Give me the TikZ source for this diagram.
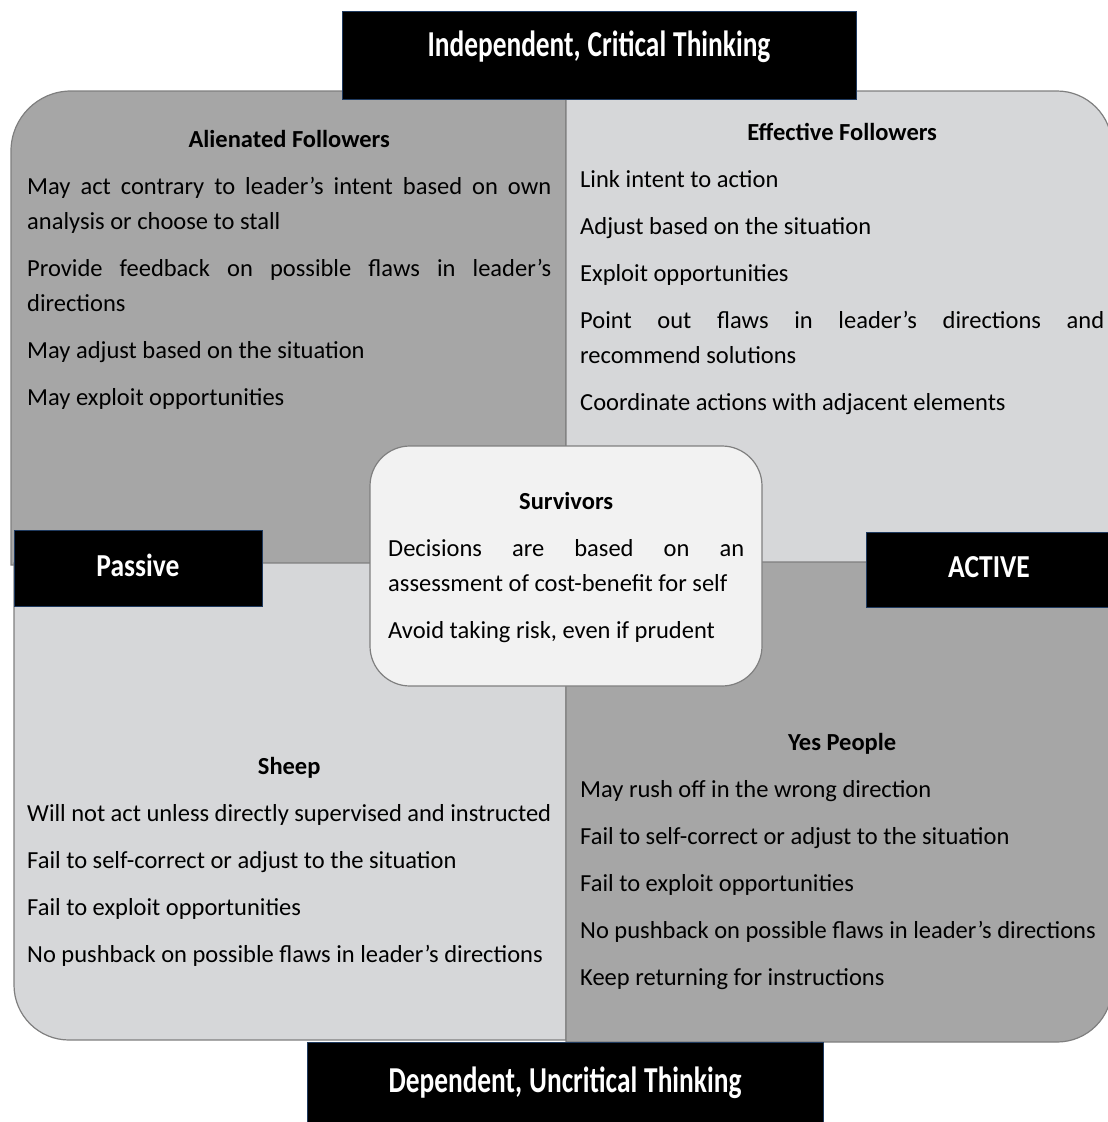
\documentclass[tikz,border=0pt]{standalone}
\usepackage{fontspec}
\setmainfont{Carlito}
\newfontfamily\barfont[FakeStretch=0.75]{Carlito}
\newfontfamily\sidefont[FakeStretch=0.86]{Carlito}

\definecolor{quaddark}{HTML}{A6A6A6}
\definecolor{quadlight}{HTML}{D6D7D9}
\definecolor{survfill}{HTML}{F2F2F2}
\definecolor{quadline}{HTML}{7F7F7F}
\definecolor{barline}{HTML}{1F3A5F}

\newcommand\body{\fontsize{24.5}{35}\selectfont}
\newcommand\tightspaces{\spaceskip=7pt\relax}
\newcommand\nextline{\par\vspace{12pt}}
\hbadness=10000

\begin{document}
\begin{tikzpicture}[x=1pt,y=-1pt,
	quad/.style={draw=quadline,line width=1.2pt},
	quadtext/.style={anchor=base west,inner sep=0pt,text width=524pt,align=justify,font=\body},
	bar/.style={fill=black,draw=barline,line width=1pt,text=white,inner sep=0pt,align=center,anchor=base},
	topbar/.style={bar,font=\barfont\bfseries\fontsize{36.5}{40}\selectfont,execute at begin node=\tightspaces},
	sidebar/.style={bar,font=\sidefont\bfseries\fontsize{32}{36}\selectfont}]
	\useasboundingbox (0,0) rectangle (1108,1122);
	\clip (0,0) rectangle (1108,1122);
	% Quadrants
	\draw[quad,fill=quaddark] (566,565) -- (11,565) [rounded corners=60pt] -- (11,91) [sharp corners] -- (566,91) -- cycle;
	\draw[quad,fill=quadlight] (566,91) [rounded corners=55pt] -- (1112,91) [sharp corners] -- (1112,563) -- (566,563) -- cycle;
	\draw[quad,fill=quadlight] (14,563) -- (566,563) -- (566,1040) [rounded corners=55pt] -- (14,1040) [sharp corners] -- cycle;
	\draw[quad,fill=quaddark] (566,562) -- (1112,562) [rounded corners=55pt] -- (1112,1042) [sharp corners] -- (566,1042) -- cycle;
	% Centre box
	\draw[quad,fill=survfill,rounded corners=40pt] (370,446) rectangle (762,686);
	% Axis labels
	\node[topbar,text width=514pt,text height=45pt,text depth=43pt] (indep) at (599,56) {Independent, Critical Thinking};
	\node[topbar,text width=516pt,text height=50pt,text depth=40pt] (dep) at (565,1092) {Dependent, Uncritical Thinking};
	\node[sidebar,text width=248pt,text height=46pt,text depth=30pt] (passive) at (138,576) {Passive};
	\node[sidebar,text width=246pt,text height=45pt,text depth=30pt] (active) at (989,577) {ACTIVE};
	% Quadrant texts
	\node[quadtext] (alienated) at (27,147) {{\centering\bfseries Alienated Followers\par}\vspace{12pt}
		May act contrary to leader’s intent based on own\linebreak analysis or choose to stall\nextline
		Provide feedback on possible flaws in leader’s\linebreak directions\nextline
		May adjust based on the situation\nextline
		May exploit opportunities};
	\node[quadtext] (effective) at (580,140) {{\centering\bfseries Effective Followers\par}\vspace{12pt}
		Link intent to action\nextline
		Adjust based on the situation\nextline
		Exploit opportunities\nextline
		Point out flaws in leader’s directions and\linebreak recommend solutions\nextline
		Coordinate actions with adjacent elements};
	\node[quadtext,text width=356pt] (survivors) at (388,509) {{\centering\bfseries Survivors\par}\vspace{12pt}
		Decisions are based on an\linebreak assessment of cost-benefit for self\nextline
		Avoid taking risk, even if prudent};
	\node[quadtext] (sheep) at (27,774) {{\centering\bfseries Sheep\par}\vspace{12pt}
		Will not act unless directly supervised and instructed\nextline
		Fail to self-correct or adjust to the situation\nextline
		Fail to exploit opportunities\nextline
		No pushback on possible flaws in leader’s directions};
	\node[quadtext] (yespeople) at (580,750) {{\centering\bfseries Yes People\par}\vspace{12pt}
		May rush off in the wrong direction\nextline
		Fail to self-correct or adjust to the situation\nextline
		Fail to exploit opportunities\nextline
		No pushback on possible flaws in leader’s directions\nextline
		Keep returning for instructions};
\end{tikzpicture}
\end{document}
